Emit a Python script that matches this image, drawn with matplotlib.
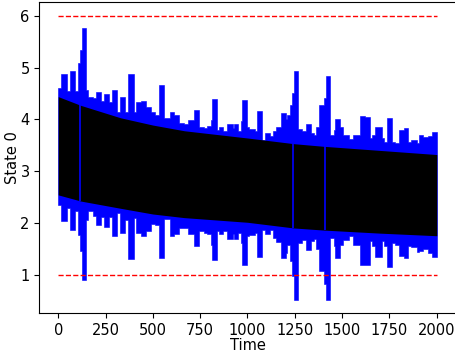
import numpy as np
import matplotlib.pyplot as plt

# blue trajectory: start time of each step, top and bottom of the swing
blue_t = [0, 17, 44, 61, 88, 102, 114, 123, 149, 158, 184, 202, 228, 242, 267, 284,
          309, 324, 351, 368, 398, 412, 435, 465, 491, 509, 531, 558, 588, 610, 640,
          666, 684, 719, 742, 772, 786, 807, 815, 837, 851, 873, 894, 921, 930, 952,
          965, 973, 1000, 1008, 1038, 1052, 1079, 1093, 1119, 1135, 1149, 1175, 1201,
          1210, 1224, 1236, 1245, 1266, 1289, 1310, 1333, 1350, 1364, 1376, 1403, 1415,
          1438, 1459, 1464, 1487, 1503, 1534, 1557, 1596, 1622, 1648, 1660, 1674, 1710,
          1722, 1736, 1766, 1780, 1803, 1827, 1850, 1862, 1897, 1908, 1929, 1955, 1976,
          2000]
blue_hi = [4.60, 4.88, 4.54, 4.94, 4.54, 5.09, 5.34, 5.76, 4.56, 4.43, 4.42, 4.53, 4.35,
           4.49, 4.33, 4.57, 4.15, 4.43, 4.15, 4.88, 4.15, 4.33, 4.35, 4.24, 4.15, 4.09,
           4.67, 4.03, 4.14, 4.08, 3.93, 3.92, 3.99, 4.19, 3.86, 3.83, 3.87, 3.99, 4.39,
           3.80, 3.85, 3.78, 3.92, 3.84, 3.91, 3.78, 3.96, 4.38, 3.86, 3.81, 3.78, 4.17,
           3.61, 3.74, 3.68, 3.78, 3.86, 4.13, 4.00, 4.09, 4.28, 4.51, 4.93, 3.82, 3.78,
           3.92, 3.74, 3.70, 3.86, 4.28, 4.41, 4.83, 3.70, 3.80, 4.01, 3.86, 3.69, 3.62,
           3.69, 4.06, 4.05, 3.64, 3.70, 3.86, 3.64, 3.56, 4.03, 3.56, 3.54, 3.80, 3.84,
           3.56, 3.61, 3.55, 3.69, 3.66, 3.68, 3.75, 3.75]
blue_lo = [2.35, 2.03, 2.29, 1.86, 2.23, 1.77, 1.45, 0.90, 2.06, 2.22, 2.13, 1.95, 2.12,
           1.92, 2.12, 1.75, 2.19, 1.80, 2.05, 1.30, 2.09, 1.80, 1.74, 1.84, 1.98, 1.95,
           1.31, 2.07, 1.75, 1.79, 1.90, 1.90, 1.79, 1.56, 1.84, 1.81, 1.79, 1.57, 1.28,
           1.85, 1.78, 1.85, 1.68, 1.78, 1.68, 1.81, 1.61, 1.19, 1.75, 1.76, 1.81, 1.33,
           1.86, 1.78, 1.86, 1.70, 1.62, 1.32, 1.41, 1.57, 1.26, 0.97, 0.50, 1.61, 1.66,
           1.47, 1.64, 1.68, 1.49, 1.06, 0.81, 0.50, 1.71, 1.55, 1.31, 1.57, 1.66, 1.74,
           1.57, 1.19, 1.19, 1.64, 1.55, 1.34, 1.64, 1.56, 1.15, 1.61, 1.57, 1.35, 1.32,
           1.55, 1.53, 1.44, 1.46, 1.49, 1.41, 1.34, 1.34]

# black trajectory envelope
black_t = [0, 120, 330, 500, 666, 1000, 1245, 1400, 1700, 2000]
black_hi = [4.44, 4.27, 4.03, 3.89, 3.78, 3.64, 3.53, 3.48, 3.40, 3.32]
black_lo = [2.54, 2.42, 2.28, 2.17, 2.10, 2.01, 1.90, 1.86, 1.80, 1.75]

# times where the blue line shows through the black band
gap_t = [117, 1240, 1411]

bounds = [1, 6]

plt.rcParams['font.size'] = 10.5

fig = plt.figure(figsize=(4.56, 3.53), dpi=100)
ax = fig.add_axes([39.3 / 456, 1 - 313.3 / 353, 416.4 / 456, 311.3 / 353])

ax.fill_between(blue_t, blue_lo, blue_hi, step='post', color='b', lw=0.4)
ax.fill_between(black_t, black_lo, black_hi, color='k', lw=0)
ax.vlines(gap_t, np.interp(gap_t, black_t, black_lo), np.interp(gap_t, black_t, black_hi),
          color='b', lw=1.2)
for b in bounds:
    ax.plot([0, 2000], [b, b], 'r--', lw=1)

ax.set_xlim(-100, 2100)
ax.set_ylim(0.25, 6.27)
ax.set_xticks([0, 250, 500, 750, 1000, 1250, 1500, 1750, 2000])
ax.set_xlabel('Time', labelpad=0)
ax.set_ylabel('State 0', labelpad=0)

fig.savefig('out.png', dpi=100)
